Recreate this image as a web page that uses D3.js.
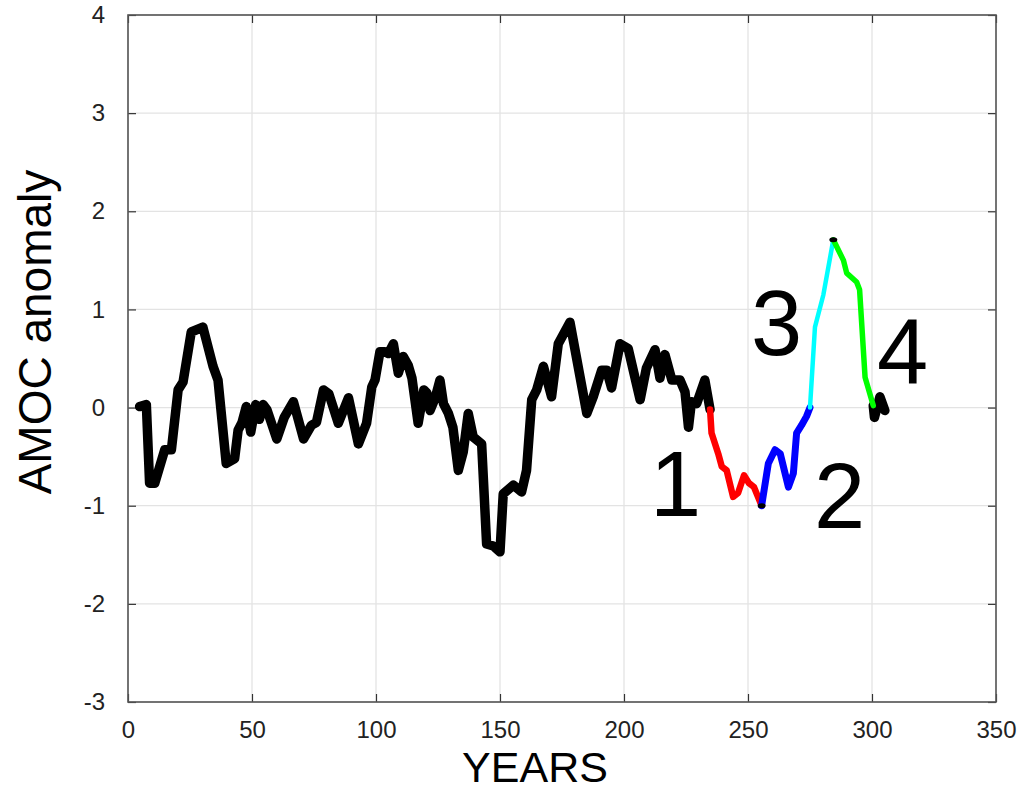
<!DOCTYPE html>
<html>
<head>
<meta charset="utf-8">
<script src="https://cdn.jsdelivr.net/npm/d3@7"></script>
<style>
  html, body { margin: 0; padding: 0; background: #fff; }
  svg { display: block; font-family: "Liberation Sans", Arial, Helvetica, sans-serif; }
</style>
</head>
<body>
<div id="chart"></div>
<script>
// AMOC anomaly time series
const years = [
  4.7, 7.4, 8.7, 10.8, 14.8, 17.5, 20.2, 22.2, 25.5, 30.2, 34.3, 36.3, 39.6, 43, 44.4, 46, 47.7,
  49.5, 51.5, 53, 54.5, 56, 60, 63, 66.7, 70.8, 74, 76, 78.8, 81, 84.8, 88.9, 92.9, 96.2, 98.3,
  99.6, 101.6, 103.6, 105, 107, 109, 111, 113, 114.5, 117, 119.3, 120.5, 121.8, 123.9, 125.8,
  127.2, 129.2, 131, 133.2, 135.2, 137.2, 139.2, 142.6, 144.6, 147.3, 150, 151.3, 155.4, 158.7,
  160.7, 162.8, 164.8, 167.5, 170.8, 173.5, 178.2, 185, 187.6, 191, 193, 195, 198.4, 201.7,
  206.5, 209, 212.5, 214.5, 216.5, 219.3, 222.6, 224.6, 226, 227.2, 229.3, 232.6, 234.7,
  235.3, 238, 239.4, 241.4, 244, 246, 248.4, 250.4, 252.4, 255.5,
  258.2, 260.9, 263, 266.3, 268.3, 269.6, 271.6, 273.6, 275,
  277, 280.4, 284.4,
  288.5, 289.8, 293.8, 295, 297.2, 300.5,
  301, 303.2, 305.2
];
const values = [
  0.01, 0.03, -0.77, -0.77, -0.43, -0.43, 0.18, 0.26, 0.77, 0.82, 0.42, 0.28, -0.57, -0.52, -0.23, -0.15, 0.01,
  -0.25, 0.03, -0.12, 0.03, -0.02, -0.32, -0.1, 0.06, -0.32, -0.18, -0.15, 0.18, 0.14, -0.16, 0.1, -0.37, -0.16, 0.21,
  0.28, 0.57, 0.57, 0.55, 0.65, 0.35, 0.52, 0.43, 0.3, -0.16, 0.18, 0.15, -0.03, 0.1, 0.28,
  0.04, -0.06, -0.2, -0.64, -0.45, -0.06, -0.3, -0.37, -1.39, -1.41, -1.47, -0.88, -0.79, -0.86,
  -0.64, 0.08, 0.18, 0.42, 0.11, 0.65, 0.87, -0.06, 0.11, 0.38, 0.38, 0.2, 0.65, 0.6,
  0.08, 0.4, 0.59, 0.3, 0.54, 0.28, 0.28, 0.16, -0.2, 0.06, 0.04, 0.28, -0.02,
  -0.26, -0.47, -0.6, -0.64, -0.91, -0.87, -0.69, -0.77, -0.81, -1.0,
  -0.57, -0.43, -0.47, -0.81, -0.67, -0.26, -0.18, -0.09, 0.0,
  0.82, 1.15, 1.71,
  1.5, 1.37, 1.28, 1.2, 0.31, 0.02,
  -0.1, 0.11, -0.03
];
// years where the highlighted phases 1..4 begin / end
const phaseBreaks = [234.7, 255.5, 275, 284.4, 300.5];
const phaseLabels = ['1', '2', '3', '4'];
const phaseLabelYears = [210.5, 276.6, 251.2, 302];
const phaseLabelValues = [-1.10, -1.23, 0.535, 0.25];

const xTicks = [0, 50, 100, 150, 200, 250, 300, 350];
const yTicks = [-3, -2, -1, 0, 1, 2, 3, 4];

const W = 1019, H = 791;
const M = { left: 128, right: 23, top: 15, bottom: 89 };
const iw = W - M.left - M.right;
const ih = H - M.top - M.bottom;

const data = years.map((d, i) => ({ year: d, v: values[i] }));

const svg = d3.select('#chart').append('svg').attr('width', W).attr('height', H);
const g = svg.append('g').attr('transform', `translate(${M.left},${M.top})`);

const x = d3.scaleLinear().domain([0, 350]).range([0, iw]);
const y = d3.scaleLinear().domain([-3, 4]).range([ih, 0]);

// shadow under the zero line
const defs = svg.append('defs');
const f = defs.append('filter').attr('id', 'zshadow').attr('x', '-5%').attr('y', '-200%').attr('width', '110%').attr('height', '500%');
f.append('feDropShadow').attr('dx', 0).attr('dy', 3).attr('stdDeviation', 2.5)
  .attr('flood-color', '#000').attr('flood-opacity', 0.25);

// grid
g.append('g').selectAll('line').data(xTicks).join('line')
  .attr('x1', (d) => x(d)).attr('x2', (d) => x(d)).attr('y1', 0).attr('y2', ih)
  .attr('stroke', '#e3e3e3').attr('stroke-width', 1.3);
g.append('g').selectAll('line').data(yTicks).join('line')
  .attr('y1', (d) => y(d)).attr('y2', (d) => y(d)).attr('x1', 0).attr('x2', iw)
  .attr('stroke', '#e3e3e3').attr('stroke-width', 1.3);

// axes (ticks inside, matlab style)
const plain = (d) => String(d);
const styleAxis = (sel) => {
  sel.selectAll('.domain').remove();
  sel.selectAll('line').attr('stroke', '#333').attr('stroke-width', 1.2);
  sel.selectAll('text').attr('fill', '#222').style('font-size', '24px');
};
g.append('g').attr('transform', `translate(0,${ih})`)
  .call(d3.axisBottom(x).tickValues(xTicks).tickFormat(plain).tickSizeInner(-8).tickSizeOuter(0).tickPadding(19))
  .call(styleAxis);
g.append('g')
  .call(d3.axisLeft(y).tickValues(yTicks).tickFormat(plain).tickSizeInner(-8).tickSizeOuter(0).tickPadding(23))
  .call(styleAxis);
g.append('g')
  .attr('transform', `translate(${iw},0)`)
  .call(d3.axisRight(y).tickValues(yTicks).tickSizeInner(-8).tickSizeOuter(0).tickFormat(''))
  .call(styleAxis);
g.append('g')
  .call(d3.axisTop(x).tickValues(xTicks).tickSizeInner(-8).tickSizeOuter(0).tickFormat(''))
  .call(styleAxis);

g.append('rect').attr('width', iw).attr('height', ih)
  .attr('fill', 'none').attr('stroke', '#555').attr('stroke-width', 1.6);

// series
const line = d3.line().x((d) => x(d.year)).y((d) => y(d.v));
const first = phaseBreaks[0], last = phaseBreaks[phaseBreaks.length - 1];
const drawPath = (pts, color, w) => g.append('path').datum(pts)
  .attr('fill', 'none').attr('stroke', color).attr('stroke-width', w)
  .attr('stroke-linejoin', 'round').attr('stroke-linecap', 'round').attr('d', line);

drawPath(data.filter((d) => d.year <= first), '#000', 9.5);
drawPath(data.filter((d) => d.year >= last), '#000', 9.5);

const phaseColors = ['#ff0000', '#0000ff', '#00ffff', '#00ff00'];
const phaseWidths = [6.5, 7, 4.5, 5.5];
phaseColors.forEach((c, i) => {
  const a = phaseBreaks[i], b = phaseBreaks[i + 1];
  drawPath(data.filter((d) => d.year >= a && d.year <= b), c, phaseWidths[i]);
});

// little black markers at the turning points
g.selectAll('.turn').data(data.filter((d) => d.year === phaseBreaks[1] || d.year === phaseBreaks[3]))
  .join('ellipse').attr('class', 'turn')
  .attr('cx', (d) => x(d.year)).attr('cy', (d) => y(d.v))
  .attr('rx', 4).attr('ry', 2.5).attr('fill', '#000');

// zero line
g.append('line')
  .attr('x1', x(0) + 2).attr('x2', x(350) - 1).attr('y1', y(0)).attr('y2', y(0))
  .attr('stroke', '#4a7dbb').attr('stroke-width', 4.5)
  .attr('filter', 'url(#zshadow)');

// phase numbers
g.selectAll('.phase').data(phaseLabels).join('text').attr('class', 'phase')
  .attr('x', (d, i) => x(phaseLabelYears[i]))
  .attr('y', (d, i) => y(phaseLabelValues[i]))
  .attr('fill', '#000').style('font-size', '92px')
  .text((d) => d);

// axis titles
svg.append('text')
  .attr('x', 535).attr('y', 782).attr('text-anchor', 'middle')
  .style('font-size', '43px').attr('fill', '#000').text('YEARS');
svg.append('text')
  .attr('transform', 'translate(51,332) rotate(-90)').attr('text-anchor', 'middle')
  .style('font-size', '46px').attr('fill', '#000').text('AMOC anomaly');
</script>
</body>
</html>
